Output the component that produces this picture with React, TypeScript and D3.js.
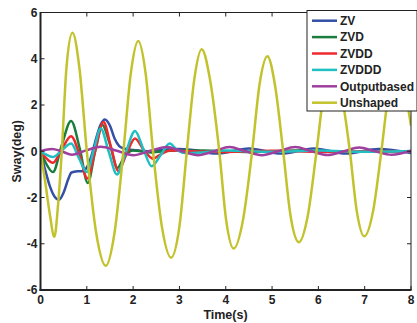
import React from "react";
import * as d3 from "d3";

type Pt = [number, number];

const xTicks = [0, 1, 2, 3, 4, 5, 6, 7, 8];
const yTicks = [-6, -4, -2, 0, 2, 4, 6];

const zv: Pt[] = [
  [0, 0], [0.1, -0.8], [0.2, -1.5], [0.3, -1.95], [0.4, -2.1], [0.5, -1.78], [0.6, -1.2],
  [0.67, -0.92], [0.8, -0.87], [0.92, -0.86], [1.0, -0.7], [1.1, -0.2], [1.2, 0.55],
  [1.3, 1.15], [1.39, 1.37], [1.5, 1.1], [1.6, 0.55], [1.7, 0.22], [1.8, 0.12], [2.0, 0.05],
  [2.3, 0], [2.6, 0.06], [3.0, 0.1], [3.3, 0.05], [3.8, -0.1], [4.5, 0.12], [5.2, -0.1],
  [5.9, 0.12], [6.6, -0.1], [7.3, 0.1], [8.0, -0.08],
];

const zvd: Pt[] = [
  [0, 0], [0.1, -0.45], [0.27, -0.9], [0.45, 0.2], [0.66, 1.31], [0.85, 0.1], [1.02, -1.37],
  [1.18, 0], [1.33, 1.15], [1.5, 0.3], [1.66, -0.72], [1.82, -0.2], [2.0, 0.03], [2.4, -0.05],
  [2.8, 0.02], [3.5, 0.03], [4.5, -0.03], [5.5, 0.03], [6.5, -0.02], [8.0, 0],
];

const zvdd: Pt[] = [
  [0, 0], [0.1, -0.25], [0.27, -0.5], [0.45, 0.05], [0.66, 0.65], [0.85, -0.2], [1.01, -1.18],
  [1.18, 0], [1.36, 1.27], [1.52, 0.2], [1.68, -0.85], [1.86, -0.1], [2.04, 0.55], [2.23, 0.05],
  [2.43, -0.32], [2.62, -0.1], [2.8, 0.03], [3.2, 0], [4.0, -0.03], [5.0, 0.02], [6.0, -0.02],
  [8.0, 0],
];

const zvddd: Pt[] = [
  [0, 0], [0.1, -0.12], [0.27, -0.25], [0.45, 0.02], [0.66, 0.33], [0.83, -0.3], [1.0, -0.9],
  [1.15, 0.05], [1.3, 0.98], [1.47, 0], [1.65, -1.0], [1.85, 0], [2.04, 0.88], [2.22, 0.1],
  [2.4, -0.65], [2.6, -0.15], [2.79, 0.33], [2.95, 0.05], [3.15, -0.08], [3.5, -0.05],
  [4.0, 0.03], [5.0, -0.02], [6.0, 0.03], [7.0, -0.02], [8.0, 0.01],
];

const outputBased: Pt[] = [
  [0, 0], [0.25, 0.1], [0.45, 0], [0.68, -0.15], [1.0, 0.05], [1.3, 0.19], [1.65, 0.02],
  [2.0, -0.17], [2.35, 0], [2.72, 0.18], [3.05, 0], [3.4, -0.17], [3.75, 0], [4.08, 0.18],
  [4.42, 0], [4.78, -0.17], [5.14, 0], [5.5, 0.18], [5.85, 0], [6.2, -0.16], [6.55, 0],
  [6.88, 0.16], [7.22, 0], [7.58, -0.15], [8.0, 0.02],
];

const unshaped: Pt[] = [
  [0, 0], [0.1, -1.3], [0.2, -2.7], [0.3, -3.7], [0.38, -2.3], [0.46, 0], [0.56, 3.6],
  [0.69, 5.12], [0.84, 3.6], [1.0, 0], [1.2, -3.5], [1.41, -4.95], [1.6, -3.5], [1.79, 0],
  [1.95, 3.37], [2.11, 4.77], [2.27, 3.37], [2.43, 0], [2.62, -3.25], [2.82, -4.6], [3.0, -3.25],
  [3.16, 0], [3.32, 3.1], [3.48, 4.41], [3.66, 3.1], [3.86, 0], [4.01, -3.0], [4.17, -4.21],
  [4.37, -3.0], [4.57, 0], [4.73, 2.9], [4.9, 4.11], [5.06, 2.9], [5.24, 0], [5.4, -2.8],
  [5.58, -3.93], [5.77, -2.8], [5.96, 0], [6.13, 2.7], [6.3, 3.85], [6.48, 2.7], [6.68, 0],
  [6.83, -2.6], [6.99, -3.68], [7.18, -2.6], [7.36, 0], [7.52, 2.55], [7.69, 3.6], [7.86, 2.7],
  [8.0, 1.1],
];

const seriesNames = ["ZV", "ZVD", "ZVDD", "ZVDDD", "Outputbased", "Unshaped"];
const seriesData = [zv, zvd, zvdd, zvddd, outputBased, unshaped];
const seriesColors = ["#3450a6", "#1b7d3d", "#ee2a2e", "#1fbfc2", "#a0409e", "#c2c22c"];

const W = 417;
const H = 323;
const L = 40.5;
const R = 411;
const T = 12.5;
const B = 290;
const FONT = "'Liberation Sans', Arial, Helvetica, sans-serif";

export default function App() {
  const x = d3.scaleLinear().domain([0, 8]).range([L, R]);
  const y = d3.scaleLinear().domain([-6, 6]).range([B, T]);
  const line = d3
    .line<Pt>()
    .x((d) => x(d[0]))
    .y((d) => y(d[1]))
    .curve(d3.curveMonotoneX);

  const tl = 4;
  const legX = 307;
  const legY = 10.5;
  const legW = 110;
  const legH = 100.5;

  return (
    <svg
      width={W}
      height={H}
      style={{ position: "absolute", left: 0, top: 0, background: "#fff" }}
      fontFamily={FONT}
    >
      <rect x={0} y={0} width={W} height={H} fill="#fff" />
      <defs>
        <clipPath id="plotclip">
          <rect x={L} y={T} width={R - L} height={B - T} />
        </clipPath>
      </defs>
      <g clipPath="url(#plotclip)">
        {seriesData.map((d, i) => (
          <path
            key={seriesNames[i]}
            d={line(d) || ""}
            fill="none"
            stroke={seriesColors[i]}
            strokeWidth={2.5}
            strokeLinejoin="round"
          />
        ))}
      </g>
      {/* axes box */}
      <line x1={L} x2={R} y1={T} y2={T} stroke="#222" strokeWidth={1} />
      <line x1={R} x2={R} y1={T} y2={B} stroke="#222" strokeWidth={1} />
      <line x1={L} x2={L} y1={T - 0.5} y2={B + 1} stroke="#222" strokeWidth={2} />
      <line x1={L - 1} x2={R + 0.5} y1={B} y2={B} stroke="#222" strokeWidth={2} />
      {xTicks.map((t) => (
        <g key={"xt" + t}>
          <line x1={x(t)} x2={x(t)} y1={B} y2={B - tl} stroke="#222" strokeWidth={1} />
          <line x1={x(t)} x2={x(t)} y1={T} y2={T + tl} stroke="#222" strokeWidth={1} />
          <text
            x={x(t)}
            y={303.5}
            textAnchor="middle"
            fontSize={12}
            fontWeight="bold"
            fill="#222"
          >
            {t}
          </text>
        </g>
      ))}
      {yTicks.map((t) => (
        <g key={"yt" + t}>
          <line x1={L} x2={L + tl} y1={y(t)} y2={y(t)} stroke="#222" strokeWidth={1} />
          <line x1={R} x2={R - tl} y1={y(t)} y2={y(t)} stroke="#222" strokeWidth={1} />
          <text
            x={37.5}
            y={y(t)}
            dy="0.36em"
            textAnchor="end"
            fontSize={12}
            fontWeight="bold"
            fill="#222"
          >
            {t}
          </text>
        </g>
      ))}
      <text
        x={225.5}
        y={318.5}
        textAnchor="middle"
        fontSize={12.5}
        fontWeight="bold"
        fill="#222"
      >
        Time(s)
      </text>
      <text
        transform={`translate(20.5,${(T + B) / 2}) rotate(-90)`}
        textAnchor="middle"
        fontSize={12.5}
        fontWeight="bold"
        fill="#222"
      >
        Sway(deg)
      </text>
      {/* legend */}
      <rect
        x={legX}
        y={legY}
        width={legW}
        height={legH}
        fill="#fff"
        stroke="#222"
        strokeWidth={1}
      />
      {seriesNames.map((n, i) => {
        const cy = 20.7 + i * 16.4;
        return (
          <g key={"lg" + n}>
            <line
              x1={312}
              x2={337}
              y1={cy}
              y2={cy}
              stroke={seriesColors[i]}
              strokeWidth={2.5}
            />
            <text
              x={340}
              y={cy}
              dy="0.36em"
              fontSize={12}
              fontWeight="bold"
              fill="#222"
            >
              {n}
            </text>
          </g>
        );
      })}
    </svg>
  );
}
